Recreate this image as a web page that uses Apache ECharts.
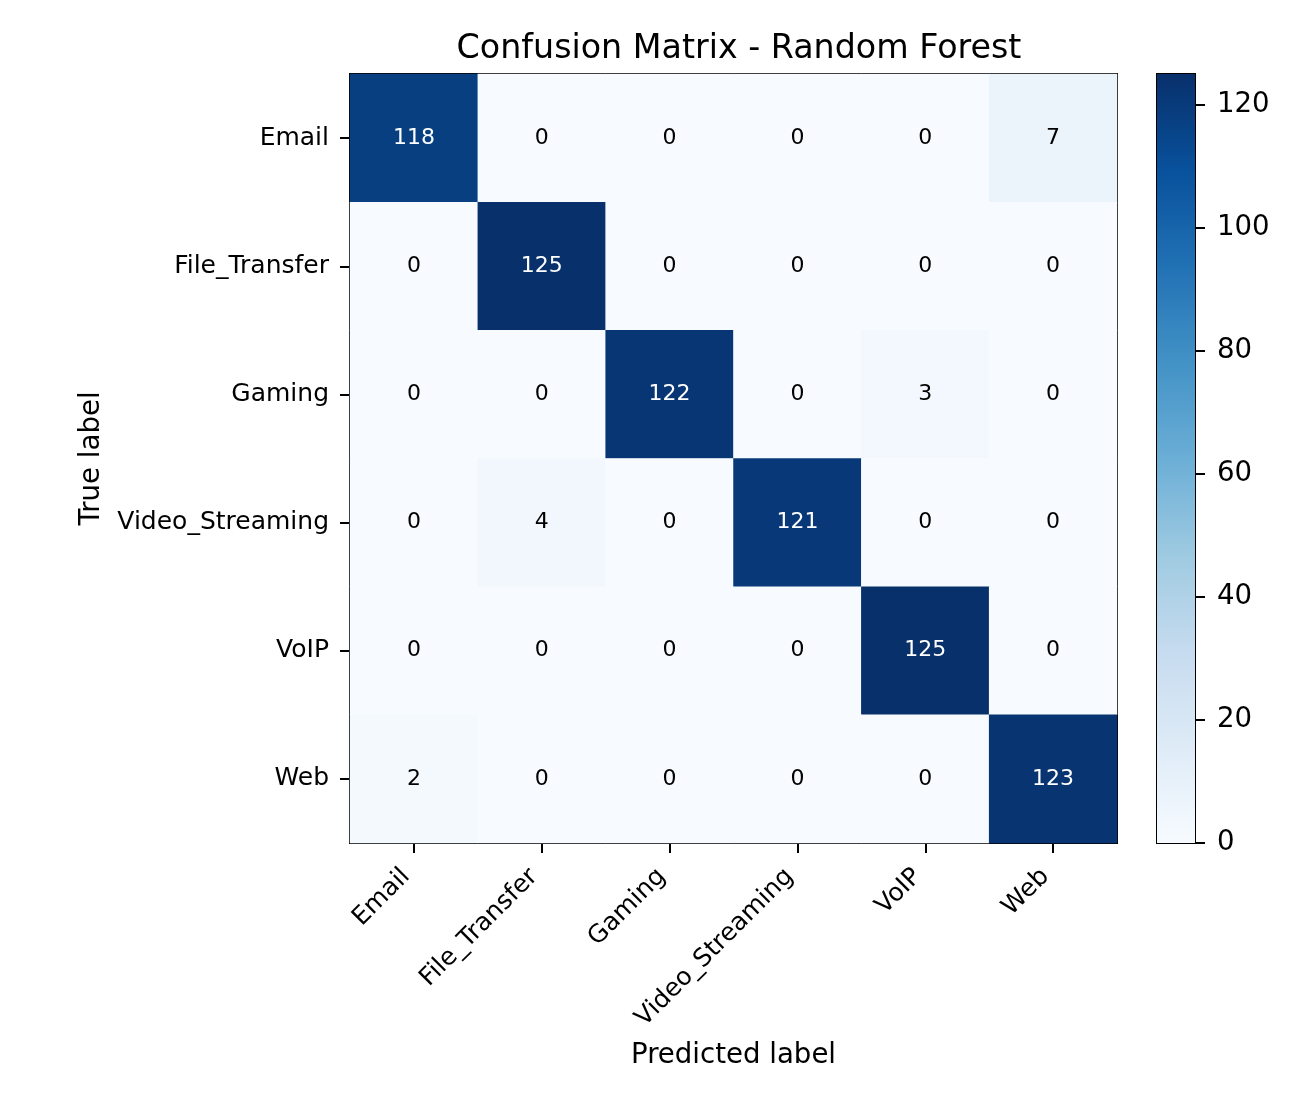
<!doctype html>
<html>
<head>
<meta charset="UTF-8">
<title>Confusion Matrix - Random Forest</title>
<script src="https://cdn.jsdelivr.net/npm/echarts@6/dist/echarts.min.js"></script>
<style>
  html, body { margin: 0; padding: 0; background: #fff; }
  #main { width: 1300px; height: 1100px; }
</style>
</head>
<body>
<div id="main"></div>
<script type="text/javascript">
// class labels (rows = true, columns = predicted)
var classes = ['Email', 'File_Transfer', 'Gaming', 'Video_Streaming', 'VoIP', 'Web'];
// confusion matrix rows
var rowEmail = [118, 0, 0, 0, 0, 7];
var rowFile = [0, 125, 0, 0, 0, 0];
var rowGaming = [0, 0, 122, 0, 3, 0];
var rowVideo = [0, 4, 0, 121, 0, 0];
var rowVoip = [0, 0, 0, 0, 125, 0];
var rowWeb = [2, 0, 0, 0, 0, 123];
var matrix = [rowEmail, rowFile, rowGaming, rowVideo, rowVoip, rowWeb];
var colorTicks = [0, 20, 40, 60, 80, 100, 120];
var vmax = 125;

// matplotlib "Blues"
var blues = ['#f7fbff', '#deebf7', '#c6dbef', '#9ecae1', '#6baed6', '#4292c6', '#2171b5', '#08519c', '#08306b'];

var cells = [];
for (var r = 0; r < matrix.length; r++) {
    for (var c = 0; c < matrix[r].length; c++) {
        var v = matrix[r][c];
        cells.push({
            value: [c, r, v],
            label: { color: v > vmax / 2 ? '#ffffff' : '#000000' }
        });
    }
}

var font = 'DejaVu Sans';
var myChart = echarts.init(document.getElementById('main'));

var gradStops = [];
for (var i = 0; i < blues.length; i++) {
    gradStops.push({ offset: 1 - i / (blues.length - 1), color: blues[i] });
}

var option = {
    backgroundColor: '#ffffff',
    animation: false,
    textStyle: { fontFamily: font },
    title: {
        text: 'Confusion Matrix - Random Forest',
        left: 734, top: 28, textAlign: 'center',
        textStyle: { fontFamily: font, fontSize: 33.3, fontWeight: 'normal', color: '#000' }
    },
    grid: [
        { left: 350, top: 74, width: 767, height: 769, show: true, borderColor: '#000', borderWidth: 2, backgroundColor: 'transparent' },
        { left: 1157, top: 74, width: 38, height: 769, show: true, borderColor: '#000', borderWidth: 2, backgroundColor: 'transparent' }
    ],
    visualMap: {
        show: false, min: 0, max: vmax, seriesIndex: 0, dimension: 2,
        inRange: { color: blues }
    },
    xAxis: [
        {
            type: 'category', gridIndex: 0, data: classes, position: 'bottom',
            name: 'Predicted label', nameLocation: 'middle', nameGap: 199,
            nameTextStyle: { fontFamily: font, fontSize: 27.6, color: '#000' },
            axisLine: { show: true, lineStyle: { color: '#000', width: 2 } },
            axisTick: { show: true, alignWithLabel: true, length: 10, lineStyle: { color: '#000', width: 2 } },
            axisLabel: { rotate: 45, fontFamily: font, fontSize: 25, color: '#000', margin: 22, padding: [0, 11, 0, 0] },
            splitLine: { show: false }
        },
        {
            type: 'category', gridIndex: 1, data: [''],
            axisLine: { show: false }, axisTick: { show: false }, axisLabel: { show: false }
        }
    ],
    yAxis: [
        {
            type: 'category', gridIndex: 0, data: classes, inverse: true,
            name: 'True label', nameLocation: 'middle', nameGap: 244,
            nameTextStyle: { fontFamily: font, fontSize: 27.6, color: '#000' },
            axisLine: { show: true, lineStyle: { color: '#000', width: 2 } },
            axisTick: { show: true, alignWithLabel: true, length: 10, lineStyle: { color: '#000', width: 2 } },
            axisLabel: { fontFamily: font, fontSize: 25, color: '#000', margin: 21 },
            splitLine: { show: false }
        },
        {
            type: 'value', gridIndex: 1, position: 'right', min: 0, max: vmax, interval: 20,
            axisLine: { show: true, lineStyle: { color: '#000', width: 2 } },
            axisTick: { show: true, length: 10, customValues: colorTicks, lineStyle: { color: '#000', width: 2 } },
            axisLabel: {
                fontFamily: font, fontSize: 27.6, color: '#000', margin: 22,
                customValues: colorTicks
            },
            splitLine: { show: false }
        }
    ],
    series: [
        {
            type: 'heatmap', xAxisIndex: 0, yAxisIndex: 0,
            data: cells,
            label: { show: true, fontFamily: font, fontSize: 22 },
            itemStyle: { borderWidth: 0 },
            emphasis: { disabled: true }
        },
        {
            type: 'bar', xAxisIndex: 1, yAxisIndex: 1,
            data: [vmax], barWidth: '100%', silent: true,
            itemStyle: {
                color: { type: 'linear', x: 0, y: 0, x2: 0, y2: 1, colorStops: gradStops }
            }
        }
    ]
};
myChart.setOption(option);
</script>
</body>
</html>
